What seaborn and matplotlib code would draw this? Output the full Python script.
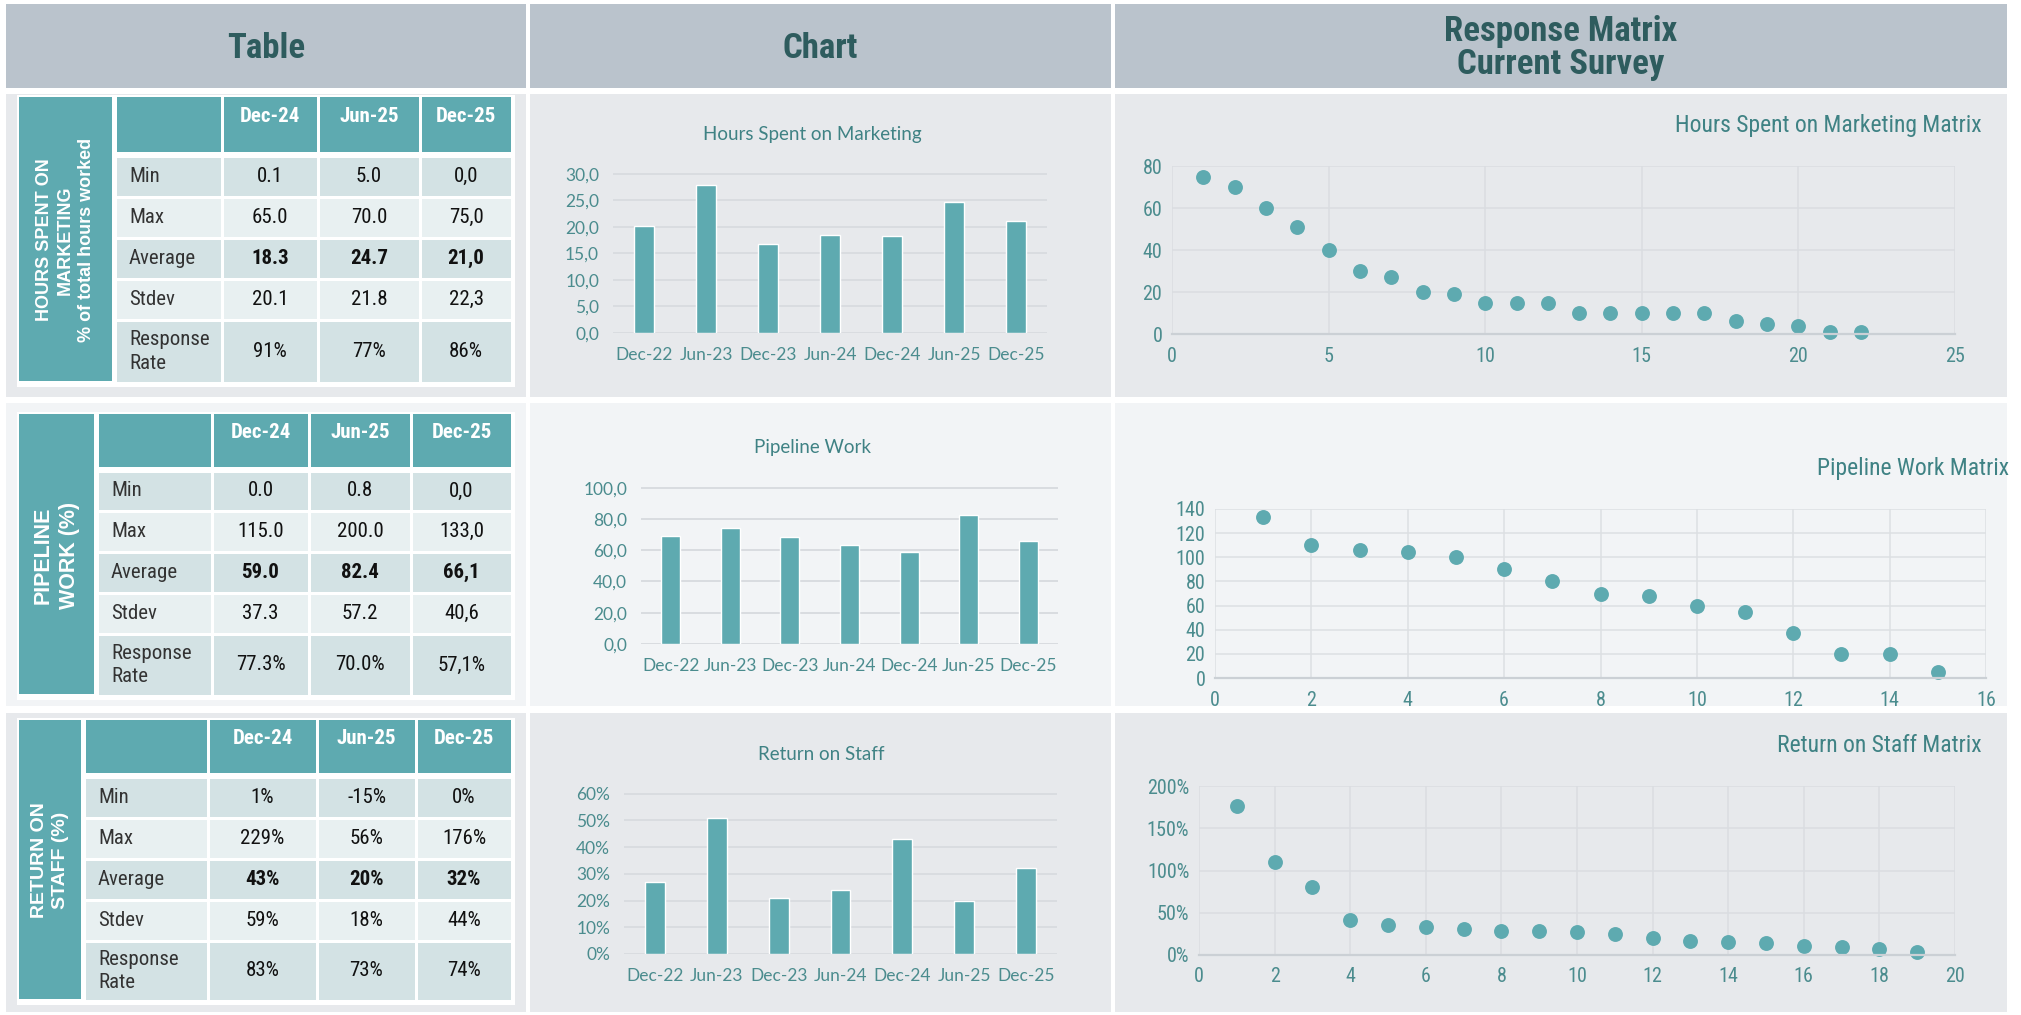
import numpy as np
import matplotlib
matplotlib.use("Agg")
import matplotlib.pyplot as plt
import seaborn as sns
from matplotlib import font_manager
from matplotlib.patches import Rectangle
from matplotlib.ticker import FuncFormatter, MultipleLocator

# --- data -------------------------------------------------------------
periods = ["Dec-24", "Jun-25", "Dec-25"]
stat_labels = ["Min", "Max", "Average", "Stdev", "Response\nRate"]

hours_dec24 = ["0.1", "65.0", "18.3", "20.1", "91%"]
hours_jun25 = ["5.0", "70.0", "24.7", "21.8", "77%"]
hours_dec25 = ["0,0", "75,0", "21,0", "22,3", "86%"]

pipe_dec24 = ["0.0", "115.0", "59.0", "37.3", "77.3%"]
pipe_jun25 = ["0.8", "200.0", "82.4", "57.2", "70.0%"]
pipe_dec25 = ["0,0", "133,0", "66,1", "40,6", "57,1%"]

staff_dec24 = ["1%", "229%", "43%", "59%", "83%"]
staff_jun25 = ["-15%", "56%", "20%", "18%", "73%"]
staff_dec25 = ["0%", "176%", "32%", "44%", "74%"]

survey_periods = ["Dec-22", "Jun-23", "Dec-23", "Jun-24", "Dec-24", "Jun-25", "Dec-25"]
hours_avg = [20.1, 27.9, 16.7, 18.4, 18.3, 24.7, 21.0]
pipe_avg = [69.0, 74.0, 68.2, 63.2, 59.0, 82.4, 66.1]
staff_avg = [0.27, 0.51, 0.21, 0.24, 0.43, 0.20, 0.32]

hours_matrix = [75, 70, 60, 51, 40, 30, 27, 20, 19, 15, 15, 15, 10, 10, 10, 10, 10, 6, 5, 4, 1, 1]
pipe_matrix = [133, 110, 106, 104, 100, 90, 80, 70, 68, 60, 55, 37, 20, 20, 5]
staff_matrix = [1.76, 1.10, 0.80, 0.42, 0.35, 0.33, 0.31, 0.28, 0.28, 0.27, 0.25,
                0.20, 0.17, 0.15, 0.14, 0.11, 0.09, 0.07, 0.03]

# --- colours / fonts ---------------------------------------------------
TEAL = "#5EAAB0"
HEAD_BG = "#BAC3CC"
HEAD_TXT = "#2E5C5E"
PANEL_DARK = "#E7E9EC"
PANEL_LIGHT = "#F2F4F6"
ROW_DARK = "#D3E2E4"
ROW_LIGHT = "#E8F0F1"
TICK = "#4B8C8E"
GRID = "#D9DCE0"

sns.set_theme(style="white")

# pick the narrowest sans that is actually installed
installed = font_manager.fontManager.ttflist
names = {f.name for f in installed}
NARROW_STRETCH = "normal"
if "Liberation Sans Narrow" in names:
    NARROW = ["Liberation Sans Narrow", "DejaVu Sans"]
elif "Roboto Condensed" in names:
    NARROW = ["Roboto Condensed", "DejaVu Sans"]
elif any(f.name == "DejaVu Sans" and str(f.stretch) == "condensed" for f in installed):
    NARROW = ["DejaVu Sans"]
    NARROW_STRETCH = "condensed"
else:
    NARROW = ["Roboto", "DejaVu Sans"]
SANS = ["Liberation Sans", "DejaVu Sans"]
CHART = ["Lato", "DejaVu Sans"]

W, H = 2021, 1015
fig = plt.figure(figsize=(W / 100, H / 100), dpi=100)
fig.patch.set_facecolor("white")
canvas = fig.add_axes([0, 0, 1, 1])
canvas.set_xlim(0, W)
canvas.set_ylim(H, 0)
canvas.axis("off")


def box(x0, y0, x1, y1, color):
    canvas.add_patch(Rectangle((x0, y0), x1 - x0, y1 - y0, facecolor=color,
                               edgecolor="none", linewidth=0))


def px_axes(x0, y0, x1, y1):
    return fig.add_axes([x0 / W, 1 - y1 / H, (x1 - x0) / W, (y1 - y0) / H])


def ntext(x, y, s, **kw):
    return canvas.text(x, y, s, family=NARROW, fontstretch=NARROW_STRETCH, **kw)


# --- background panels ---------------------------------------------------
cols_x = [(6, 526), (530, 1111), (1115, 2007)]
for (x0, x1) in cols_x:
    box(x0, 4, x1, 88, HEAD_BG)
    box(x0, 94, x1, 397, PANEL_DARK)
    box(x0, 403, x1, 706, PANEL_LIGHT)
    box(x0, 713, x1, 1012, PANEL_DARK)

ntext(266, 48, "Table", ha="center", va="center", fontsize=25,
      weight="bold", color=HEAD_TXT)
ntext(820, 48, "Chart", ha="center", va="center", fontsize=25,
      weight="bold", color=HEAD_TXT)
ntext(1561, 48, "Response Matrix\nCurrent Survey", ha="center", va="center",
      fontsize=25, weight="bold", color=HEAD_TXT, linespacing=0.98)


# --- tables ---------------------------------------------------------------
def draw_table(side, col_edges, head_y, row_ys, side_text, side_size, values):
    sx0, sx1 = side
    box(sx0 - 2, head_y[0] - 2, col_edges[-1] + 3, row_ys[-1][1] + 4, "white")
    box(sx0, head_y[0], sx1, row_ys[-1][1] - 2, TEAL)
    canvas.text((sx0 + sx1) / 2, (head_y[0] + row_ys[-1][1]) / 2, side_text,
                rotation=90, ha="center", va="center", color="white",
                fontsize=side_size, weight="bold", family=SANS, linespacing=1.3)
    g = 1.5
    for i in range(4):
        box(col_edges[i] + g, head_y[0], col_edges[i + 1] - g, head_y[1], TEAL)
    for i, p in enumerate(periods):
        ntext((col_edges[i + 1] + col_edges[i + 2]) / 2, head_y[0] + 19, p,
              ha="center", va="center", color="white", fontsize=15, weight="bold")
    for r, (y0, y1) in enumerate(row_ys):
        fill = ROW_DARK if r % 2 == 0 else ROW_LIGHT
        for i in range(4):
            box(col_edges[i] + g, y0 + g, col_edges[i + 1] - g, y1 - g, fill)
        cy = (y0 + y1) / 2
        ntext(col_edges[0] + 14, cy, stat_labels[r], ha="left", va="center",
              fontsize=15, color="#333333", linespacing=1.3)
        for i in range(3):
            ntext((col_edges[i + 1] + col_edges[i + 2]) / 2, cy, values[i][r],
                  ha="center", va="center", fontsize=15, color="#111111",
                  weight="bold" if r == 2 else "normal")


draw_table((19, 112), [115, 222, 318, 420, 512], (97, 152),
           [(156, 197), (197, 238), (238, 279), (279, 320), (320, 383)],
           "HOURS SPENT ON\nMARKETING\n% of total hours worked", 13,
           [hours_dec24, hours_jun25, hours_dec25])
draw_table((19, 94), [97, 212, 309, 411, 512], (414, 467),
           [(471, 511), (511, 552), (552, 593), (593, 634), (634, 696)],
           "PIPELINE\nWORK (%)", 15.5,
           [pipe_dec24, pipe_jun25, pipe_dec25])
draw_table((19, 81), [84, 208, 317, 416, 512], (720, 773),
           [(777, 818), (818, 859), (859, 900), (900, 941), (941, 1001)],
           "RETURN ON\nSTAFF (%)", 14,
           [staff_dec24, staff_jun25, staff_dec25])


# --- bar charts -------------------------------------------------------------
def comma1(v, _):
    return f"{v:.1f}".replace(".", ",")


def pct0(v, _):
    return f"{v * 100:.0f}%"


def style_ticks(ax, family, size, stretch="normal", color=TICK):
    for t in ax.get_xticklabels() + ax.get_yticklabels():
        t.set_fontfamily(family)
        t.set_fontstretch(stretch)
        t.set_fontsize(size)
        t.set_color(color)


def bar_panel(rect, values, ylim, step, fmt, title, title_xy):
    ax = px_axes(*rect)
    sns.barplot(x=survey_periods, y=values, ax=ax, color=TEAL, saturation=1,
                width=0.32)
    ax.set_xlim(-0.5, len(survey_periods) - 0.5)
    ax.set_ylim(ylim[0], ylim[1] * 1.004)
    ax.yaxis.set_major_locator(MultipleLocator(step))
    ax.yaxis.set_major_formatter(FuncFormatter(fmt))
    ax.grid(axis="y", color=GRID, lw=1.4)
    ax.set_axisbelow(True)
    ax.set_facecolor("none")
    for s in ax.spines.values():
        s.set_visible(False)
    ax.set_xlabel("")
    ax.set_ylabel("")
    ax.tick_params(axis="x", length=0, pad=10)
    ax.tick_params(axis="y", length=0, pad=10)
    style_ticks(ax, CHART, 12.5)
    canvas.text(title_xy[0], title_xy[1], title, ha="center", va="center",
                fontsize=13.5, color="#3F8284", family=CHART)
    return ax


bar_panel((613, 173, 1047, 333), hours_avg, (0, 30), 5, comma1,
          "Hours Spent on Marketing", (812, 134))
bar_panel((641, 487, 1058, 644), pipe_avg, (0, 100), 20, comma1,
          "Pipeline Work", (812, 447))
bar_panel((624, 793, 1057, 954), staff_avg, (0, 0.6), 0.1, pct0,
          "Return on Staff", (821, 754))


# --- scatter matrices -----------------------------------------------------
def plain(v, _):
    return f"{v:.0f}"


def scatter_panel(rect, values, xlim, xstep, ylim, ystep, fmt, title, title_xy, grid):
    ax = px_axes(*rect)
    ranks = np.arange(1, len(values) + 1)
    sns.scatterplot(x=ranks, y=values, ax=ax, color=TEAL, s=115, linewidth=0,
                    clip_on=False)
    ax.set_xlim(*xlim)
    ax.set_ylim(*ylim)
    ax.xaxis.set_major_locator(MultipleLocator(xstep))
    ax.yaxis.set_major_locator(MultipleLocator(ystep))
    ax.yaxis.set_major_formatter(FuncFormatter(fmt))
    ax.xaxis.set_major_formatter(FuncFormatter(plain))
    ax.grid(True, color=grid, lw=1.1)
    ax.set_axisbelow(True)
    ax.set_facecolor("none")
    for name, s in ax.spines.items():
        s.set_visible(name == "bottom")
    ax.spines["bottom"].set_color("#CBD0D5")
    ax.spines["bottom"].set_linewidth(1.6)
    ax.set_xlabel("")
    ax.set_ylabel("")
    ax.tick_params(axis="x", length=0, pad=9)
    ax.tick_params(axis="y", length=0, pad=7)
    style_ticks(ax, NARROW, 14.5, NARROW_STRETCH)
    ntext(title_xy[0], title_xy[1], title, ha="right", va="center",
          fontsize=17, color="#3F8284")
    return ax


scatter_panel((1172, 166, 1955, 334), hours_matrix, (0, 25), 5, (0, 80), 20, plain,
              "Hours Spent on Marketing Matrix", (1982, 125), "#DADDE1")
scatter_panel((1215, 509, 1986, 678), pipe_matrix, (0, 16), 2, (0, 140), 20, plain,
              "Pipeline Work Matrix", (2009, 468), "#DDE0E3")
scatter_panel((1199, 786, 1955, 955), staff_matrix, (0, 20), 2, (0, 2.0), 0.5, pct0,
              "Return on Staff Matrix", (1982, 745), "#DADDE1")

fig.savefig("out.png", dpi=100, facecolor=fig.get_facecolor())
